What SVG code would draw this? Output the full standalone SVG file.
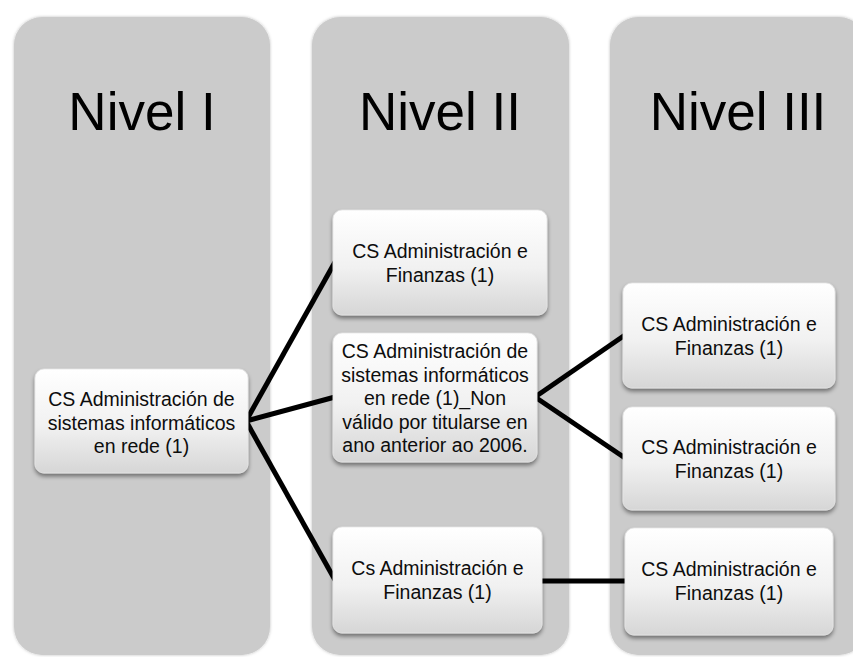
<svg xmlns="http://www.w3.org/2000/svg" width="853" height="657" viewBox="0 0 853 657">
  <defs>
    <linearGradient id="boxFill" x1="0" y1="0" x2="0" y2="1">
      <stop offset="0" stop-color="#ffffff"/>
      <stop offset="0.55" stop-color="#f1f1f1"/>
      <stop offset="1" stop-color="#d6d6d6"/>
    </linearGradient>
    <filter id="boxShadow" x="-10%" y="-10%" width="120%" height="130%">
      <feDropShadow dx="0" dy="3" stdDeviation="2" flood-color="#000" flood-opacity="0.45"/>
    </filter>
    <filter id="panelShadow" x="-5%" y="-5%" width="110%" height="110%">
      <feDropShadow dx="0" dy="0" stdDeviation="1.5" flood-color="#000" flood-opacity="0.25"/>
    </filter>
    <style>
      .panel { fill: #cbcbcb; filter: url(#panelShadow); }
      .box { fill: url(#boxFill); stroke: #e6e6e6; stroke-width: 0.8; filter: url(#boxShadow); }
      .head { font-family: "Liberation Sans", Arial, sans-serif; font-size: 53px; fill: #000; text-anchor: middle; }
      .lbl { font-family: "Liberation Sans", Arial, sans-serif; font-size: 19.5px; fill: #0d0d0d; text-anchor: middle; }
      .link { stroke: #000; stroke-width: 5; stroke-linecap: butt; fill: none; }
    </style>
  </defs>

  <rect width="853" height="657" fill="#ffffff"/>

  <!-- level columns -->
  <g id="level-1">
    <rect class="panel" x="14" y="17" width="256" height="638" rx="28"/>
    <text class="head" x="142" y="130">Nivel I</text>
  </g>
  <g id="level-2">
    <rect class="panel" x="312" y="17" width="257" height="638" rx="28"/>
    <text class="head" x="440" y="130">Nivel II</text>
  </g>
  <g id="level-3">
    <rect class="panel" x="610" y="17" width="257" height="638" rx="28"/>
    <text class="head" x="738" y="130">Nivel III</text>
  </g>

  <!-- connectors -->
  <g id="connectors">
    <line class="link" x1="246" y1="421" x2="335" y2="262"/>
    <line class="link" x1="246" y1="421" x2="335" y2="397"/>
    <line class="link" x1="246" y1="421" x2="335" y2="580"/>
    <line class="link" x1="535" y1="397" x2="625" y2="335"/>
    <line class="link" x1="535" y1="397" x2="625" y2="458"/>
    <line class="link" x1="540" y1="581" x2="627" y2="581"/>
  </g>

  <!-- nodes -->
  <g id="n-asir">
    <rect class="box" x="35" y="369" width="213" height="104" rx="9"/>
    <text class="lbl" x="141.5" y="406">CS Administración de</text>
    <text class="lbl" x="141.5" y="429.5">sistemas informáticos</text>
    <text class="lbl" x="141.5" y="453">en rede (1)</text>
  </g>

  <g id="n-af-2a">
    <rect class="box" x="333" y="210" width="214" height="105" rx="9"/>
    <text class="lbl" x="440" y="258">CS Administración e</text>
    <text class="lbl" x="440" y="281.5">Finanzas (1)</text>
  </g>

  <g id="n-asir-2">
    <rect class="box" x="333" y="333" width="204" height="129" rx="9"/>
    <text class="lbl" x="435" y="358">CS Administración de</text>
    <text class="lbl" x="435" y="381.5">sistemas informáticos</text>
    <text class="lbl" x="435" y="405">en rede (1)_Non</text>
    <text class="lbl" x="435" y="428.5">válido por titularse en</text>
    <text class="lbl" x="435" y="452">ano anterior ao 2006.</text>
  </g>

  <g id="n-af-2b">
    <rect class="box" x="333" y="527" width="209" height="106" rx="9"/>
    <text class="lbl" x="437.5" y="575">Cs Administración e</text>
    <text class="lbl" x="437.5" y="598.5">Finanzas (1)</text>
  </g>

  <g id="n-af-3a">
    <rect class="box" x="623" y="283" width="212" height="105" rx="9"/>
    <text class="lbl" x="729" y="331">CS Administración e</text>
    <text class="lbl" x="729" y="354.5">Finanzas (1)</text>
  </g>

  <g id="n-af-3b">
    <rect class="box" x="623" y="407" width="212" height="103" rx="9"/>
    <text class="lbl" x="729" y="454">CS Administración e</text>
    <text class="lbl" x="729" y="477.5">Finanzas (1)</text>
  </g>

  <g id="n-af-3c">
    <rect class="box" x="625" y="528" width="208" height="107" rx="9"/>
    <text class="lbl" x="729" y="576">CS Administración e</text>
    <text class="lbl" x="729" y="599.5">Finanzas (1)</text>
  </g>
</svg>
